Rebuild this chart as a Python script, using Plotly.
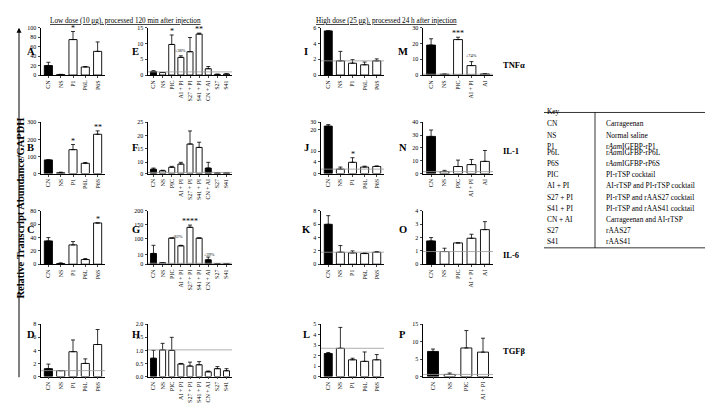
import numpy as np
import plotly.graph_objects as go

W, H = 713, 405
FONT = "Liberation Serif"

# ---------------- data ----------------
cats5 = ["CN", "NS", "P1", "P6L", "P6S"]
cats9 = ["CN", "NS", "PIC", "AI + PI", "S27 + PI", "S41 + PI", "CN + AI", "S27", "S41"]
cats_m = ["CN", "NS", "PIC", "AI + PI", "AI"]
cats_p = ["CN", "NS", "PIC", "AI + PI"]

A_val = [20, 1, 75, 17, 50];            A_err = [7, 0.5, 17, 1, 20]
B_val = [80, 5, 140, 60, 230];          B_err = [0, 3, 30, 5, 20]
C_val = [35, 1, 29, 7, 62];             C_err = [5, 1, 5, 1.5, 0]
D_val = [1.2, 0.9, 3.8, 2.0, 4.9];      D_err = [0.7, 0, 1.8, 0.7, 2.3]

E_val = [1.1, 0.8, 9.7, 5.6, 7.4, 13.0, 2.0, 0.2, 0.3]
E_err = [0.3, 0, 3.0, 0.5, 4.5, 0.3, 0.7, 0.1, 0.1]
F_val = [3.8, 2.4, 5.5, 8.3, 16.7, 15.4, 4.8, 0.7, 0.7]
F_err = [1.0, 0.5, 0.8, 1.5, 5.0, 2.0, 5.0, 0.1, 0.1]
G_val = [18, 1.6, 102, 60, 141, 102, 4.7, 0.6, 0.6]
G_err = [45, 0, 0, 3, 8, 0, 3, 0.1, 0.1]
H_val = [0.7, 1.02, 1.0, 0.48, 0.4, 0.45, 0.18, 0.3, 0.22]
H_err = [0.3, 0.25, 0.5, 0.02, 0.15, 0.12, 0.03, 0.08, 0.08]

I_val = [5.6, 1.8, 1.5, 1.3, 1.8];      I_err = [0, 1.2, 0.45, 0.35, 0.25]
J_val = [25, 1.5, 3.8, 2.2, 2.4];       J_err = [2, 0.7, 2.5, 0.3, 0.2]
K_val = [6, 1.8, 1.7, 1.6, 1.8];        K_err = [1.3, 1.0, 0.3, 0.1, 0.1]
L_val = [2.2, 2.7, 1.6, 1.45, 1.6];     L_err = [0.1, 2.0, 0.15, 0.9, 0.5]

M_val = [19, 0.5, 22.5, 6, 0.7];        M_err = [4, 0.1, 1.5, 2.5, 0.1]
N_val = [29, 1.5, 5.5, 7, 9.5];         N_err = [5, 1, 5, 4, 8.5]
O_val = [1.75, 0.95, 1.6, 1.95, 2.6];   O_err = [0.25, 0.25, 0, 0.3, 0.6]
P_val = [7.2, 0.6, 8.2, 7.0];           P_err = [0.7, 0.4, 5, 4]

A_ticks = [0, 20, 40, 60, 80, 100]
B_ticks = [0, 100, 200, 300]
C_ticks = [0, 20, 40, 60, 80]
D_ticks = [0, 2, 4, 6, 8]
E_ticks = [0, 5, 10, 15]
F_ticks = [0, 10, 15, 20, 25]
G_ticks = [0, 10, 100, 150, 200]
H_ticks = [0, 0.5, 1.0, 1.5, 2.0]
H_ticklabels = ["0.0", "0.5", "1.0", "1.5", "2.0"]
I_ticks = [0, 2, 4, 6]
J_ticks = [0, 4, 10, 20, 30]
K_ticks = [0, 2, 4, 6, 8]
L_ticks = [0, 1, 2, 3, 4, 5]
M_ticks = [0, 10, 20, 30]
N_ticks = [0, 10, 20, 30, 40]
O_ticks = [0, 1, 2, 3, 4]
P_ticks = [0, 5, 10, 15]

# broken (segmented) axes: value breakpoints -> drawn position
F_break = ([0, 10, 15, 20, 25], [0, 42, 92, 140, 188])
G_break = ([0, 10, 100, 200], [0, 32, 88, 183])
J_break = ([0, 4, 10, 20, 30], [0, 36, 68, 133, 156])

gene_labels = ["TNFα", "IL-1", "IL-6", "TGFβ"]
title_low = "Low dose (10 μg), processed 120 min after injection"
title_high = "High dose (25 μg), processed 24 h after injection"
y_title = "Relative Transcript Abundance/GAPDH"

key_abbr = ["CN", "NS", "P1", "P6L", "P6S", "PIC", "AI + PI", "S27 + PI",
            "S41 + PI", "CN + AI", "S27", "S41"]
key_desc = ["Carrageenan", "Normal saline", "r<i>Aam</i>IGFBP-rP1", "r<i>Aam</i>IGFBP-rP6L",
            "r<i>Aam</i>IGFBP-rP6S", "PI-rTSP cocktail", "AI-rTSP and PI-rTSP cocktail",
            "PI-rTSP and rAAS27 cocktail", "PI-rTSP and rAAS41 cocktail",
            "Carrageenan and AI-rTSP", "rAAS27", "rAAS41"]

# ---------------- geometry (px) ----------------
cols = [(17, 33, 97), (122, 140, 224), (298, 313, 376), (395, 415, 485)]
rows = [(17, 65), (113, 165), (203, 257), (318, 371)]
gene_y = [48, 135, 248, 352]

panels = [
    dict(L="A", c=0, r=0, cats=cats5, v=A_val, e=A_err, t=A_ticks, stars={"P1": "*"}),
    dict(L="B", c=0, r=1, cats=cats5, v=B_val, e=B_err, t=B_ticks, stars={"P1": "*", "P6S": "**"}),
    dict(L="C", c=0, r=2, cats=cats5, v=C_val, e=C_err, t=C_ticks, stars={"P6S": "*"}),
    dict(L="D", c=0, r=3, cats=cats5, v=D_val, e=D_err, t=D_ticks, ref=0.9),
    dict(L="E", c=1, r=0, cats=cats9, v=E_val, e=E_err, t=E_ticks, ref=1.0,
         stars={"PIC": "*", "S41 + PI": "**"}, notes=[(3, 7.8, "↓38%")]),
    dict(L="F", c=1, r=1, cats=cats9, v=F_val, e=F_err, t=F_ticks, brk=F_break,
         black=["CN", "CN + AI"], ref=1.0),
    dict(L="G", c=1, r=2, cats=cats9, v=G_val, e=G_err, t=G_ticks, brk=G_break,
         black=["CN", "CN + AI"], ref=1.0, stars={"S27 + PI": "****"},
         notes=[(2.6, 108, "↓82%"), (6.1, 12, "↓39%")]),
    dict(L="H", c=1, r=3, cats=cats9, v=H_val, e=H_err, t=H_ticks, tl=H_ticklabels, ref=1.02),
    dict(L="I", c=2, r=0, cats=cats5, v=I_val, e=I_err, t=I_ticks, ref=1.8),
    dict(L="J", c=2, r=1, cats=cats5, v=J_val, e=J_err, t=J_ticks, brk=J_break, ref=1.5,
         stars={"P1": "*"}),
    dict(L="K", c=2, r=2, cats=cats5, v=K_val, e=K_err, t=K_ticks, ref=1.8),
    dict(L="L", c=2, r=3, cats=cats5, v=L_val, e=L_err, t=L_ticks, ref=2.7),
    dict(L="M", c=3, r=0, cats=cats_m, v=M_val, e=M_err, t=M_ticks, ref=0.5,
         stars={"PIC": "***"}, notes=[(3, 12.5, "↓74%")]),
    dict(L="N", c=3, r=1, cats=cats_m, v=N_val, e=N_err, t=N_ticks, ref=1.5),
    dict(L="O", c=3, r=2, cats=cats_m, v=O_val, e=O_err, t=O_ticks, ref=0.95),
    dict(L="P", c=3, r=3, cats=cats_p, v=P_val, e=P_err, t=P_ticks, ref=0.6),
]


def T(vals, brk):
    vals = np.asarray(vals, dtype=float)
    if brk is None:
        return vals
    return np.interp(vals, brk[0], brk[1])


fig = go.Figure()
layout = dict(width=W, height=H, margin=dict(l=0, r=0, t=0, b=0),
              paper_bgcolor="white", plot_bgcolor="white", showlegend=False,
              font=dict(family=FONT, color="black"), bargap=0.3)
shapes, annots = [], []

for k, p in enumerate(panels, start=1):
    lx, x0, x1 = cols[p["c"]]
    top, base = rows[p["r"]]
    brk = p.get("brk")
    n = len(p["cats"])
    xs = list(range(n))
    v = T(p["v"], brk)
    topv = T(np.array(p["v"]) + np.array(p["e"]), brk)
    err = topv - v
    black = p.get("black", ["CN"])
    colors = ["black" if c in black else "white" for c in p["cats"]]
    xa, ya = f"x{k}", f"y{k}"
    fig.add_trace(go.Bar(
        x=xs, y=v, xaxis=xa, yaxis=ya, width=0.66,
        marker=dict(color=colors, line=dict(color="black", width=0.9)),
        error_y=dict(type="data", symmetric=False, array=err, arrayminus=[0] * n,
                     color="black", thickness=0.8, width=2),
        hoverinfo="skip"))
    ticks = p["t"]
    tv = T(ticks, brk)
    tl = p.get("tl", [str(t) for t in ticks])
    sfx = "" if k == 1 else str(k)
    layout["xaxis" + sfx] = dict(
        domain=[x0 / W, x1 / W], range=[-0.6, n - 0.4], anchor=ya,
        tickmode="array", tickvals=xs, ticktext=p["cats"], tickangle=-90,
        tickfont=dict(size=6, family=FONT), showline=True, linecolor="black",
        linewidth=0.9, ticks="outside", ticklen=2, tickwidth=0.8, showgrid=False,
        zeroline=False, fixedrange=True)
    layout["yaxis" + sfx] = dict(
        domain=[1 - base / H, 1 - top / H], range=[0, tv[-1]], anchor=xa,
        tickmode="array", tickvals=list(tv), ticktext=tl,
        tickfont=dict(size=6, family=FONT), showline=True, linecolor="black",
        linewidth=0.9, ticks="outside", ticklen=2.5, tickwidth=0.8, showgrid=False,
        zeroline=False, fixedrange=True)
    if p.get("ref") is not None:
        ry = float(T([p["ref"]], brk)[0])
        shapes.append(dict(type="line", xref=f"{xa} domain", x0=0, x1=1, yref=ya,
                           y0=ry, y1=ry, line=dict(color="#9a9a9a", width=0.8)))
    for cat, s in p.get("stars", {}).items():
        i = p["cats"].index(cat)
        annots.append(dict(x=i, y=float(topv[i]), xref=xa, yref=ya, text=s,
                           showarrow=False, yanchor="bottom", yshift=-3,
                           font=dict(size=8, family=FONT)))
    for (nx, ny, txt) in p.get("notes", []):
        annots.append(dict(x=nx, y=float(T([ny], brk)[0]), xref=xa, yref=ya, text=txt,
                           showarrow=False, font=dict(size=4.5, family=FONT)))
    # panel letter, near the top of each panel
    annots.append(dict(x=lx / W, y=1 - (top + 0.34 * (base - top)) / H, xref="paper",
                       yref="paper", text=f"<b>{p['L']}</b>", showarrow=False,
                       font=dict(size=10.5, family=FONT)))

# gene labels at right
for g, gy in zip(gene_labels, gene_y):
    annots.append(dict(x=493 / W, y=1 - gy / H, xref="paper",
                       yref="paper", text=f"<b>{g}</b>", showarrow=False, xanchor="left",
                       font=dict(size=8.5, family=FONT)))

# titles
for (tx, txt) in [(40, title_low), (306, title_high)]:
    annots.append(dict(x=tx / W, y=1 - 4 / H, xref="paper", yref="paper",
                       text=f"<u>{txt}</u>", showarrow=False, xanchor="left",
                       font=dict(size=7.2, family=FONT)))

# y title and arrow
annots.append(dict(x=5 / W, y=1 - 200 / H, xref="paper", yref="paper",
                   text=f"<b>{y_title}</b>", textangle=-90, showarrow=False,
                   font=dict(size=10.5, family=FONT)))
annots.append(dict(x=11 / W, y=1 - 17 / H, ax=0, ay=351, xref="paper",
                   yref="paper", text="", showarrow=True,
                   arrowhead=2, arrowsize=1, arrowwidth=1, arrowcolor="black"))

# key table
kx0, kx1, kdiv, kcol1, kcol2 = 536, 711, 587, 538, 597
ky_head, ky_line, ky_row0, ky_step = 96, 103, 109, 11.4
KF = 7.4
annots.append(dict(x=kcol1 / W, y=1 - ky_head / H, xref="paper", yref="paper", text="Key",
                   showarrow=False, xanchor="left", borderpad=0, font=dict(size=KF, family=FONT)))
for i, (a, d) in enumerate(zip(key_abbr, key_desc)):
    yy = 1 - (ky_row0 + i * ky_step) / H
    annots.append(dict(x=kcol1 / W, y=yy, xref="paper", yref="paper", text=a,
                       showarrow=False, xanchor="left", borderpad=0,
                       font=dict(size=KF, family=FONT)))
    annots.append(dict(x=kcol2 / W, y=yy, xref="paper", yref="paper", text=d,
                       showarrow=False, xanchor="left", borderpad=0,
                       font=dict(size=KF, family=FONT)))
ybot = ky_row0 + 11 * ky_step + 6
shapes.append(dict(type="line", xref="paper", yref="paper", x0=kx0 / W, x1=kx1 / W,
                   y0=1 - ky_line / H, y1=1 - ky_line / H, line=dict(color="black", width=0.8)))
shapes.append(dict(type="line", xref="paper", yref="paper", x0=kx0 / W, x1=kx1 / W,
                   y0=1 - ybot / H, y1=1 - ybot / H, line=dict(color="black", width=0.8)))
shapes.append(dict(type="line", xref="paper", yref="paper", x0=kdiv / W, x1=kdiv / W,
                   y0=1 - ky_line / H, y1=1 - ybot / H, line=dict(color="black", width=0.8)))

layout["shapes"] = shapes
layout["annotations"] = annots
fig.update_layout(**layout)
fig.write_html("out.html")
